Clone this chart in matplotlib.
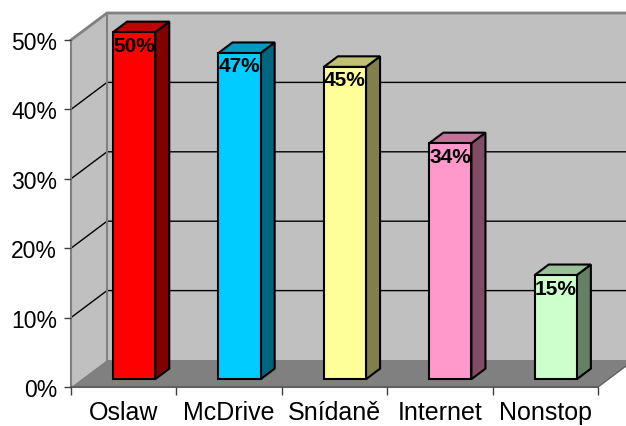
import matplotlib
matplotlib.use("Agg")
import matplotlib.pyplot as plt
from matplotlib.patches import Polygon

plt.rcParams['font.family'] = ['Liberation Sans', 'DejaVu Sans']

categories = ['Oslaw', 'McDrive', 'Snídaně', 'Internet', 'Nonstop']
values = [50, 47, 45, 34, 15]
front_colors = ['#FF0000', '#00CCFF', '#FFFF99', '#FF99CC', '#CCFFCC']
side_colors = ['#800000', '#006680', '#80804C', '#804C66', '#668066']
top_colors = ['#C00000', '#0099C0', '#C0C073', '#C07399', '#99C099']
yticks = [0, 10, 20, 30, 40, 50]
ytick_labels = ['0%', '10%', '20%', '30%', '40%', '50%']
value_labels = ['50%', '47%', '45%', '34%', '15%']

W, H = 626, 427
fig = plt.figure(figsize=(W / 100, H / 100), dpi=100)
ax = fig.add_axes([71 / W, 39 / H, 527 / W, 347 / H])
ax.set_xlim(0, 5)
ax.set_ylim(0, 50)
ax.patch.set_visible(False)

DX = 36 / 105.4
DY = 27 / 6.94


def proj(x, y, d):
    return (x + d * DX, y + d * DY)


n = len(categories)
wall = '#C0C0C0'
# walls and floor
ax.add_patch(Polygon([proj(0, 0, 0), proj(0, 50, 0), proj(0, 50, 1), proj(0, 0, 1)],
                     closed=True, fc=wall, ec='none', zorder=0.5, clip_on=False))
ax.add_patch(Polygon([proj(0, 0, 1), proj(n, 0, 1), proj(n, 50, 1), proj(0, 50, 1)],
                     closed=True, fc=wall, ec='none', zorder=0.5, clip_on=False))
ax.add_patch(Polygon([proj(0, 0, 0), proj(n, 0, 0), proj(n, 0, 1), proj(0, 0, 1)],
                     closed=True, fc='#808080', ec='none', zorder=0.6, clip_on=False))

# gridlines
for y in yticks[1:-1]:
    pts = [proj(0, y, 0), proj(0, y, 1), proj(n, y, 1)]
    ax.plot([p[0] for p in pts], [p[1] for p in pts], color='black', lw=1.0,
            zorder=0.8, clip_on=False)
pts = [proj(0, 50, 0), proj(0, 50, 1), proj(n, 50, 1)]
ax.plot([p[0] for p in pts], [p[1] for p in pts], color='#808080', lw=2.0,
        zorder=0.8, clip_on=False)
pts = [proj(0, 0, 1), proj(0, 50, 1)]
ax.plot([p[0] for p in pts], [p[1] for p in pts], color='#808080', lw=1.5,
        zorder=0.8, clip_on=False)
pts = [proj(n, 0, 0), proj(n, 0, 1)]
ax.plot([p[0] for p in pts], [p[1] for p in pts], color='#606060', lw=1.0,
        zorder=0.8, clip_on=False)

# bars
f0, f1 = 0.29, 0.68
hw = 0.2
for i, v in enumerate(values):
    x0, x1 = i + 0.5 - hw, i + 0.5 + hw
    front = [proj(x0, 0, f0), proj(x1, 0, f0), proj(x1, v, f0), proj(x0, v, f0)]
    side = [proj(x1, 0, f0), proj(x1, 0, f1), proj(x1, v, f1), proj(x1, v, f0)]
    top = [proj(x0, v, f0), proj(x1, v, f0), proj(x1, v, f1), proj(x0, v, f1)]
    for poly, c in ((side, side_colors[i]), (top, top_colors[i]), (front, front_colors[i])):
        ax.add_patch(Polygon(poly, closed=True, fc=c, ec='black', lw=1.5,
                             joinstyle='miter', zorder=3, clip_on=False))
    tx, ty = proj(i + 0.5, v, f0)
    ax.text(tx, ty - 0.5, value_labels[i], ha='center', va='top', fontsize=15,
            fontweight='bold', color='black', zorder=5, clip_on=False)

# axes
for s in ('top', 'right'):
    ax.spines[s].set_visible(False)
ax.spines['left'].set_color('#808080')
ax.spines['left'].set_linewidth(1.5)
ax.spines['bottom'].set_color('#606060')
ax.spines['bottom'].set_linewidth(1.5)
ax.spines['left'].set_zorder(1)
ax.spines['bottom'].set_zorder(1)

ax.set_yticks(yticks)
ax.set_yticklabels(ytick_labels)
ax.tick_params(axis='y', length=5, width=1, color='#404040', labelsize=16.5, pad=5)
ax.set_xticks(range(n + 1))
ax.set_xticklabels([''] * (n + 1))
ax.set_xticks([i + 0.5 for i in range(n)], minor=True)
ax.set_xticklabels(categories, minor=True)
ax.tick_params(axis='x', which='major', length=6, width=1, color='#404040')
ax.tick_params(axis='x', which='minor', length=0, labelsize=18, pad=9.5)

fig.savefig('out.png', dpi=100)
